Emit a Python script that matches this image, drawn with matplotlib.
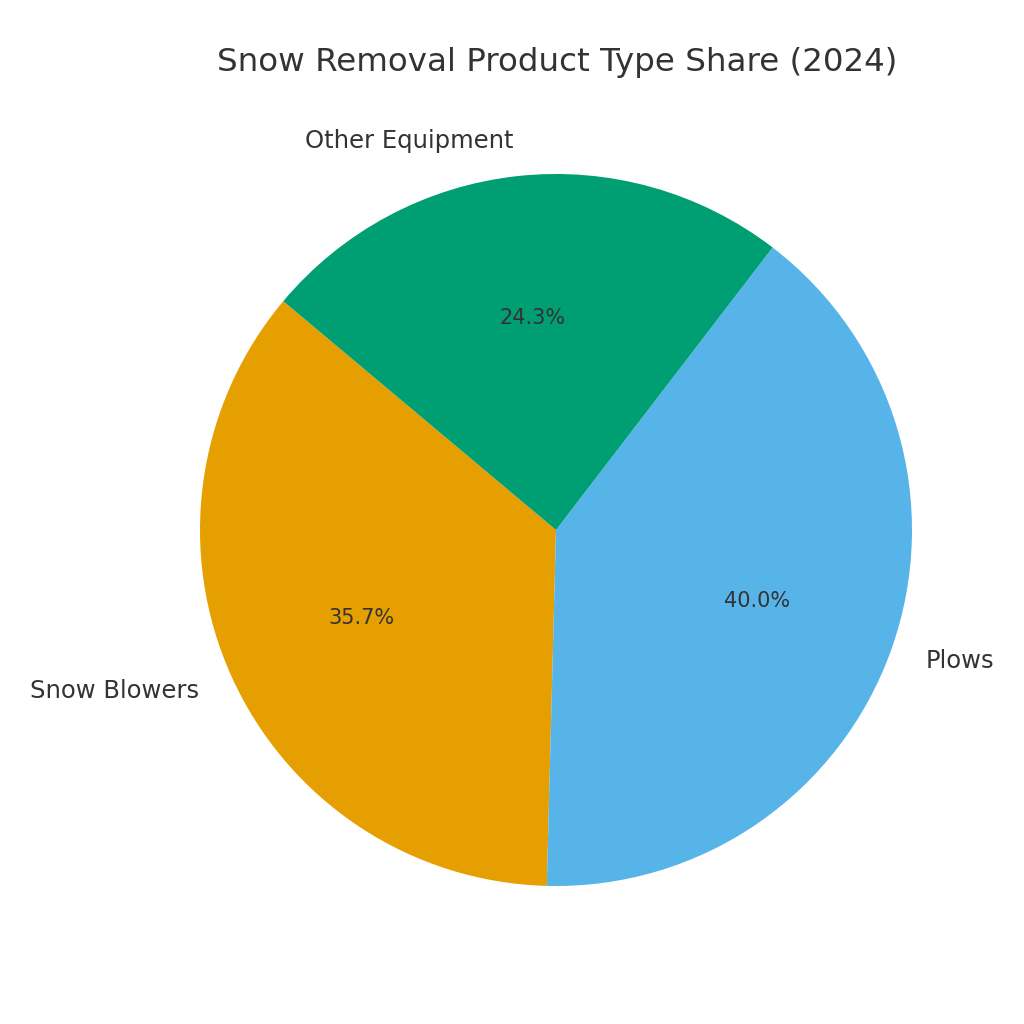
import matplotlib.pyplot as plt

# product type shares, 2024
labels = ['Snow Blowers', 'Plows', 'Other Equipment']
shares = [35.7, 40.0, 24.3]
colors = ['#E69F00', '#56B4E9', '#009E73']

fig = plt.figure(figsize=(10.24, 10.24), dpi=100)
# pie limits are +-1.25, so radius 356 px -> axes 890 px
ax = fig.add_axes([111 / 1024, 49 / 1024, 890 / 1024, 890 / 1024])

wedges, texts, autotexts = ax.pie(shares, labels=labels, colors=colors,
                                  autopct='%1.1f%%', startangle=140,
                                  textprops={'color': '#333333', 'fontsize': 17.5})
for t in autotexts:
    t.set_fontsize(15)

ax.set_aspect('equal')
fig.text(557 / 1024, 1 - 62 / 1024, 'Snow Removal Product Type Share (2024)',
         ha='center', va='center', fontsize=23.4, color='#333333')

fig.savefig('out.png', dpi=100)
